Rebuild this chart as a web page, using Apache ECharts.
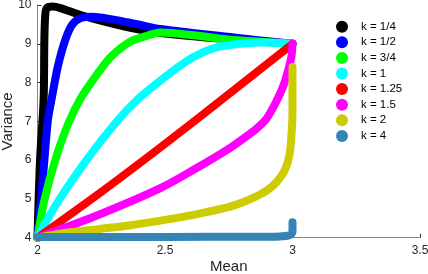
<!DOCTYPE html>
<html>
<head>
<meta charset="utf-8">
<script src="https://cdn.jsdelivr.net/npm/echarts@6/dist/echarts.min.js"></script>
<style>
html,body{margin:0;padding:0;background:#fff;}
#chart{width:428px;height:274px;}
</style>
</head>
<body>
<div id="chart"></div>
<script>
// Legend / series names
const seriesNames = ['k = 1/4', 'k = 1/2', 'k = 3/4', 'k = 1', 'k = 1.25', 'k = 1.5', 'k = 2', 'k = 4'];
const seriesColors = ['#000000', '#0000ff', '#00ff00', '#00ffff', '#ff0000', '#ff00ff', '#cccc00', '#3484b6'];

// Tick labels
const xTicks = [2, 2.5, 3, 3.5];
const yTicks = [4, 5, 6, 7, 8, 9, 10];

// Series values: [mean, variance]
const k025 = [[2,4],[2.01,6.01],[2.024,7.56],[2.027,9.12],[2.031,9.79],[2.039,9.94],[2.059,9.96],[2.09,9.92],[2.169,9.74],[2.365,9.41],[2.482,9.28],[2.745,9.12],[3,9]];
const k050 = [[2,4],[2.014,4.97],[2.027,6.0],[2.041,7.04],[2.055,7.56],[2.08,8.42],[2.11,9.12],[2.137,9.5],[2.169,9.66],[2.208,9.7],[2.365,9.54],[2.482,9.38],[2.745,9.18],[3,9]];
const k075 = [[2,4],[2.027,4.97],[2.07,6.01],[2.12,6.93],[2.17,7.6],[2.239,8.26],[2.29,8.68],[2.365,9.06],[2.431,9.21],[2.482,9.29],[2.612,9.22],[2.745,9.11],[2.875,9.05],[3,9]];
const k100 = [[2,4],[2.037,4.45],[2.084,4.97],[2.192,6.0],[2.31,6.99],[2.392,7.56],[2.482,8.05],[2.549,8.39],[2.612,8.66],[2.678,8.86],[2.745,8.96],[2.875,9.03],[3,9]];
const k125 = [[2,4],[2.25,5.18],[2.5,6.42],[2.75,7.7],[3,9]];
const k150 = [[2,4],[2.235,4.58],[2.482,5.28],[2.612,5.75],[2.745,6.27],[2.808,6.56],[2.855,6.79],[2.898,7.07],[2.937,7.52],[2.965,7.93],[2.984,8.34],[2.996,8.68],[3,9]];
const k200 = [[2,4],[2.129,4.14],[2.235,4.22],[2.365,4.32],[2.482,4.44],[2.612,4.59],[2.745,4.78],[2.808,4.92],[2.875,5.12],[2.922,5.33],[2.953,5.56],[2.973,5.79],[2.988,6.13],[2.996,6.64],[3,7.29],[3,8.4]];
const k400 = [[2,4.02],[2.5,4.02],[2.9,4.025],[2.95,4.03],[2.99,4.07],[3,4.15],[3,4.4]];

const seriesData = [k025, k050, k075, k100, k125, k150, k200, k400];

const chart = echarts.init(document.getElementById('chart'), null, {renderer: 'canvas'});
const fontFam = '"Liberation Sans", Arial, sans-serif';

chart.setOption({
  animation: false,
  backgroundColor: '#ffffff',
  grid: {left: 37.5, right: 8, top: 5, bottom: 36.3, containLabel: false, outerBoundsMode: 'none'},
  xAxis: {
    type: 'value', min: xTicks[0], max: xTicks[xTicks.length - 1], interval: 0.5,
    name: 'Mean', nameLocation: 'middle', nameGap: 22, nameMoveOverlap: false,
    nameTextStyle: {fontSize: 15, color: '#262626', fontFamily: fontFam},
    axisLine: {show: true, lineStyle: {color: '#888', width: 1}},
    axisTick: {show: true, inside: true, length: 4, lineStyle: {color: '#333'}},
    axisLabel: {fontSize: 12, color: '#262626', margin: 7, fontFamily: fontFam,
      formatter: v => String(v)},
    splitLine: {show: false}
  },
  yAxis: {
    type: 'value', min: yTicks[0], max: yTicks[yTicks.length - 1], interval: 1,
    name: 'Variance', nameLocation: 'middle', nameGap: 22, nameMoveOverlap: false,
    nameTextStyle: {fontSize: 15, color: '#262626', fontFamily: fontFam},
    axisLine: {show: true, lineStyle: {color: '#888', width: 1}},
    axisTick: {show: true, inside: true, length: 4, lineStyle: {color: '#333'}},
    axisLabel: {fontSize: 12, color: '#262626', margin: 6, fontFamily: fontFam},
    splitLine: {show: false}
  },
  legend: {
    orient: 'vertical', left: 336, top: 20.7, padding: 0,
    icon: 'circle', itemWidth: 12, itemHeight: 12, itemGap: 3.6,
    textStyle: {fontSize: 11.5, color: '#000', fontFamily: fontFam, padding: [0, 0, 0, 8]},
    itemStyle: {borderWidth: 0},
    data: seriesNames
  },
  series: seriesData.map((d, i) => ({
    name: seriesNames[i],
    type: 'line',
    data: d,
    smooth: 0.3,
    showSymbol: false,
    symbol: 'circle',
    color: seriesColors[i],
    itemStyle: {color: seriesColors[i]},
    lineStyle: {color: seriesColors[i], width: 8, cap: 'round', join: 'round'},
    z: 2 + i
  }))
});
</script>
</body>
</html>
